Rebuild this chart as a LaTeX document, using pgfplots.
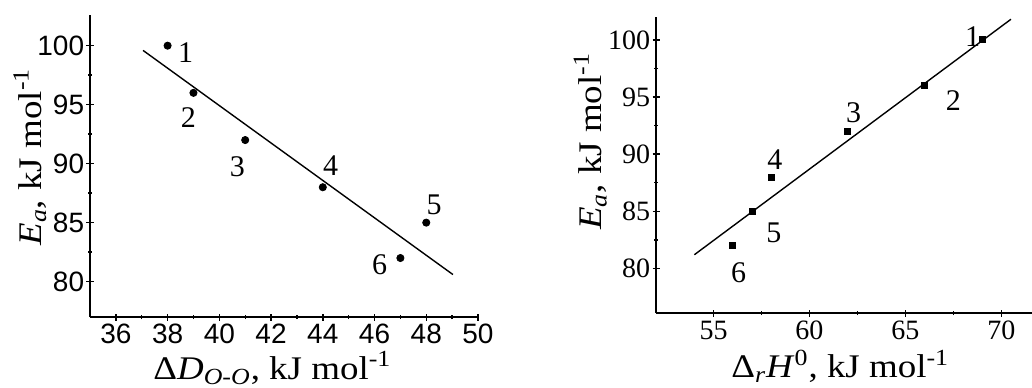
\documentclass[border=0pt]{standalone}
\usepackage{fontspec}
\setmainfont{Liberation Serif}
\newfontfamily\arial{Liberation Sans}
\newfontfamily\lab[FakeStretch=1.12]{Liberation Serif}
\usepackage{pgfplots}
\pgfplotsset{compat=1.18}
\tikzset{num/.style={font=\fontsize{15}{16}\selectfont}}
\begin{document}
\begin{tikzpicture}
\useasboundingbox (0,0) rectangle (516pt,193.5pt);
\pgfplotsset{
  base/.style={
    scale only axis,
    axis lines=left,
    axis line style={-, line width=0.9pt},
    every tick/.style={black, line width=0.7pt},
    major tick length=3.5pt,
    minor tick length=2pt,
    minor tick num=1,
    /pgf/number format/assume math mode=true,
    clip=false,
    label style={font=\lab\fontsize{16.5}{18}\selectfont},
    yticklabel style={inner xsep=1pt},
  },
}
% Left panel
\begin{axis}[base,
  at={(45pt,35pt)}, anchor=south west,
  width=194pt, height=151pt,
  xmin=35, xmax=50, ymin=77, ymax=102.6,
  xtick={36,38,...,50}, ytick={80,85,...,100},
  ticklabel style={font=\arial\fontsize{14}{15}\selectfont},
  xticklabel style={inner ysep=1.5pt},
  xlabel={Δ\textit{D}\textsubscript{\textit{O-O}}, kJ mol\textsuperscript{-1}},
  ylabel={\textit{E}\textsubscript{\textit{a}}, kJ mol\textsuperscript{-1}},
  xlabel style={at={(axis description cs:0.47,-0.17)}, anchor=center},
  ylabel style={at={(axis description cs:-0.155,0.53)}, anchor=center},
]
\addplot[black, line width=0.7pt] coordinates {(37.05,99.6) (49.03,80.6)};
\addplot[only marks, mark=*, mark size=1.8pt, black] coordinates {
  (38,100) (39,96) (41,92) (44,88) (48,85) (47,82)};
\node[num] at (axis cs:38.7,99.4) {1};
\node[num] at (axis cs:38.8,93.9) {2};
\node[num] at (axis cs:40.7,89.7) {3};
\node[num] at (axis cs:44.3,89.8) {4};
\node[num] at (axis cs:48.3,86.5) {5};
\node[num] at (axis cs:46.2,81.4) {6};
\end{axis}
% Right panel
\begin{axis}[base,
  at={(328pt,37pt)}, anchor=south west,
  width=188pt, height=148pt,
  xmin=52, xmax=71.6, ymin=76.1, ymax=102,
  xtick={55,60,65,70}, ytick={80,85,...,100},
  ticklabel style={font=\fontsize{14}{15}\selectfont},
  xticklabel style={inner ysep=2pt},
  xlabel={Δ\textsubscript{\textit{r}}\textit{H}\textsuperscript{0}, kJ mol\textsuperscript{-1}},
  ylabel={\textit{E}\textsubscript{\textit{a}}, kJ mol\textsuperscript{-1}},
  xlabel style={at={(axis description cs:0.49,-0.18)}, anchor=center},
  ylabel style={at={(axis description cs:-0.175,0.58)}, anchor=center},
]
\addplot[black, line width=0.7pt] coordinates {(54.0,81.2) (70.5,101.8)};
\addplot[only marks, mark=square*, mark size=1.5pt, black] coordinates {
  (69,100) (66,96) (62,92) (58,88) (57,85) (56,82)};
\node[num] at (axis cs:68.5,100.3) {1};
\node[num] at (axis cs:67.5,94.7) {2};
\node[num] at (axis cs:62.3,93.6) {3};
\node[num] at (axis cs:58.2,89.5) {4};
\node[num] at (axis cs:58.15,83.1) {5};
\node[num] at (axis cs:56.3,79.6) {6};
\end{axis}
\end{tikzpicture}
\end{document}
